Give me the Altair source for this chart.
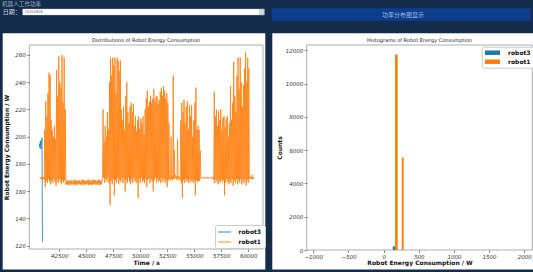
import altair as alt
import pandas as pd

# ---------------- data ----------------
robot3_time = [40650, 40700, 40750, 40800, 40850, 40900, 40940]
robot3_power = [195, 192, 197, 191, 196, 199, 123]

# robot1: dense trace, read as (peak, trough) per 100 s window, per stretch
r1_start_a, r1_a = 40700, [(170, 169), (170, 169), (171, 169), (170, 169)]
r1_start_b, r1_b = 41100, [(205, 168), (226, 163), (215, 168), (232, 166), (247, 169),
                           (245, 167), (212, 165), (205, 168), (200, 166), (208, 169),
                           (198, 167), (249, 164), (230, 168), (259, 166), (240, 169),
                           (236, 167), (260, 165), (225, 168), (258, 166), (220, 168)]
r1_start_c, r1_c = 43100, [(167, 165), (168, 164.5), (168, 165), (167.5, 165), (168, 164.5),
                           (168, 165), (167, 165.5), (168, 164.5), (168.5, 165), (168, 165),
                           (167.5, 164.5), (168, 165), (168, 165), (167, 165.5), (168, 164.5),
                           (168.5, 165), (168, 165), (168, 164.5), (167.5, 165), (168, 165),
                           (168, 165.5), (168.5, 164.5), (168, 165), (167, 165), (168, 164.5),
                           (168.5, 165), (168, 165), (168, 165.5), (167.5, 164.5), (168, 165),
                           (168.5, 165), (168, 164.5), (168, 165), (167.5, 165)]
r1_start_d, r1_d = 46500, [(220, 168), (196, 170), (208, 166), (200, 169), (218, 167),
                           (205, 170), (240, 166), (258, 150), (245, 168), (258, 165),
                           (252, 169), (258, 157), (232, 168), (258, 166), (256, 170),
                           (248, 165), (256, 168), (220, 167), (212, 170), (222, 166),
                           (205, 169), (230, 160), (240, 168), (218, 166), (210, 170),
                           (222, 167), (225, 165), (218, 169), (224, 166), (208, 170),
                           (215, 167), (204, 168), (212, 166), (215, 155), (206, 169),
                           (213, 166), (210, 170), (215, 167), (202, 168), (220, 166),
                           (228, 169), (234, 163), (222, 168), (226, 170), (230, 166),
                           (225, 169), (228, 167), (235, 160), (226, 168), (229, 170),
                           (230, 166), (224, 169), (227, 167), (233, 168), (236, 166),
                           (230, 170), (237, 167), (234, 169), (228, 166), (232, 168),
                           (225, 163), (210, 168)]
r1_start_e, r1_e = 52700, [(170, 169), (200, 168), (171, 169), (245, 168), (190, 169),
                           (172, 169), (171, 170), (198, 168), (171, 169), (170, 169),
                           (212, 168)]
r1_start_f, r1_f = 53800, [(225, 166), (218, 155), (227, 168), (210, 166), (222, 169),
                           (226, 167), (205, 168), (223, 166), (215, 169), (223, 167),
                           (200, 168), (212, 166), (225, 168), (236, 157), (205, 168),
                           (208, 167), (205, 167), (190, 168)]
r1_start_g, r1_g = 55600, [(170, 169.5), (170, 169.5), (170.5, 169.5), (170, 169.5),
                           (170, 169.5), (170, 169.5), (170.5, 169.5), (170, 169.5),
                           (170, 169.5), (170, 169.5), (170.5, 169.5), (170, 169.5)]
r1_start_h, r1_h = 56800, [(233, 168), (215, 166), (220, 169), (208, 167), (219, 165),
                           (212, 168), (220, 166), (205, 169), (214, 167), (215, 168),
                           (207, 157), (213, 166), (215, 169), (200, 167), (210, 165),
                           (237, 168), (212, 166), (225, 169), (255, 164), (230, 168),
                           (218, 166), (245, 169), (258, 165), (235, 168), (258, 166),
                           (240, 169), (222, 165), (238, 168), (250, 166), (262, 169),
                           (240, 164), (258, 168), (250, 166)]
r1_start_i, r1_i = 60100, [(171, 169), (170, 169), (172, 169), (170, 169), (170, 169)]
WINDOW = 100

# histogram bins
hist_series = ["robot3", "robot1", "robot1"]
hist_left = [129, 162, 257]
hist_right = [162, 200, 285]
hist_count = [220, 11750, 5560]

# tick labels
time_ticks = [42500, 45000, 47500, 50000, 52500, 55000, 57500, 60000]
power_ticks = [120, 140, 160, 180, 200, 220, 240, 260]
count_ticks = [0, 2000, 4000, 6000, 8000, 10000, 12000]
watt_ticks = [-1000, -500, 0, 500, 1000, 1500, 2000]

series_names = ["robot3", "robot1"]
series_colors = ["#1f77b4", "#ff7f0e"]

# ---------------- tables ----------------
rows = []
for start, pairs in [(r1_start_a, r1_a), (r1_start_b, r1_b), (r1_start_c, r1_c),
                     (r1_start_d, r1_d), (r1_start_e, r1_e), (r1_start_f, r1_f),
                     (r1_start_g, r1_g), (r1_start_h, r1_h), (r1_start_i, r1_i)]:
    for k, (hi, lo) in enumerate(pairs):
        t = start + WINDOW * k
        rows.append({"t": t, "w": lo, "series": "robot1"})
        rows.append({"t": t + WINDOW / 2, "w": hi, "series": "robot1"})
df1 = pd.DataFrame(rows)
df3 = pd.DataFrame({"t": robot3_time, "w": robot3_power, "series": "robot3"})
dfh = pd.DataFrame({"series": hist_series, "x0": hist_left, "x1": hist_right, "n": hist_count})
one = pd.DataFrame({"k": [1]})

# ---------------- layout (pixels) ----------------
W, H = 533, 272
L_X0, L_X1, L_Y0, L_Y1 = 29.3, 263.0, 249.0, 45.0
R_X0, R_X1, R_Y0, R_Y1 = 306.7, 532.3, 250.0, 45.0
BG = "#142c4c"
FONT = "DejaVu Sans"
CJK = "Noto Sans CJK SC"

color_scale = alt.Scale(domain=series_names, range=series_colors)


def axis(values, orient, offset, title, tx, ty, fmt="d"):
    return alt.Axis(values=values, format=fmt, orient=orient, offset=offset, grid=False,
                    domain=False, tickSize=2.5, tickWidth=0.7, tickColor="#555",
                    labelFont=FONT, labelFontStyle="italic", labelFontSize=5.5,
                    labelColor="#333", labelPadding=1.5, labelOverlap=False,
                    labelFlush=False, title=title, titleFont=FONT, titleFontSize=6,
                    titleFontWeight="bold", titleColor="#111", titleX=tx, titleY=ty,
                    titleAlign="center", titleBaseline="middle", zindex=1)


LXS = alt.Scale(domain=[39722, 61361], range=[L_X0, L_X1], nice=False, zero=False)
LYS = alt.Scale(domain=[117.6, 267.3], range=[L_Y0, L_Y1], nice=False, zero=False)
ax_lx = axis(time_ticks, "bottom", L_Y0 - H, "Time / s", (L_X0 + L_X1) / 2, 13.7)
ax_ly = axis(power_ticks, "left", -L_X0, "Robot Energy Consumption / W", 6.7 - L_X0,
             (L_Y0 + L_Y1) / 2)

leg_left = alt.Legend(orient="none", legendX=215, legendY=225, title=None,
                      fillColor="white", strokeColor="#cccccc", cornerRadius=2,
                      padding=3, rowPadding=3, labelFont=FONT, labelFontSize=6,
                      labelFontWeight="bold", labelColor="#111",
                      symbolType="M-2,0H2", symbolSize=42, symbolStrokeWidth=0.9,
                      symbolOffset=2.5, labelOffset=10)

leg_right = alt.Legend(orient="none", legendX=481.7, legendY=46.7, title=None,
                       fillColor="white", strokeColor="#cccccc", cornerRadius=2,
                       padding=3, rowPadding=3, labelFont=FONT, labelFontSize=6,
                       labelFontWeight="bold", labelColor="#111",
                       symbolType="M-2.5,-0.75H2.5V0.75H-2.5Z", symbolSize=36,
                       symbolStrokeWidth=0, symbolOffset=4.8, labelOffset=12.5)


def line_layer(df, sw):
    return alt.Chart(df).mark_line(strokeWidth=sw).encode(
        x=alt.X("t:Q", scale=LXS, axis=ax_lx),
        y=alt.Y("w:Q", scale=LYS, axis=ax_ly),
        color=alt.Color("series:N", scale=color_scale, legend=leg_left),
    )


left = alt.layer(line_layer(df3, 0.8), line_layer(df1, 0.8))

RXS = alt.Scale(domain=[-1094, 2114], range=[R_X0, R_X1], nice=False, zero=False)
RYS = alt.Scale(domain=[0, 12330], range=[R_Y0, R_Y1], nice=False, zero=False)
ax_rx = axis(watt_ticks, "bottom", R_Y0 - H, "Robot Energy Consumption / W",
             (R_X0 + R_X1) / 2, 12.8)
ax_ry = axis(count_ticks, "left", -R_X0, "Counts", 279 - R_X0, (R_Y0 + R_Y1) / 2)

right = alt.Chart(dfh).mark_rect().encode(
    x=alt.X("x0:Q", scale=RXS, axis=ax_rx),
    x2="x1:Q",
    y=alt.Y("n:Q", scale=RYS, axis=ax_ry),
    y2=alt.datum(0),
    color=alt.Color("series:N", scale=color_scale, legend=leg_right),
)


def box(x, x2, y, y2, **kw):
    return alt.Chart(one).mark_rect(**kw).encode(
        x=alt.value(x), x2=alt.value(x2), y=alt.value(y), y2=alt.value(y2))


def label(txt, x, y, size, color, align="left", font=CJK, weight="normal"):
    return alt.Chart(one).mark_text(text=txt, align=align, baseline="middle",
                                    fontSize=size, color=color, font=font,
                                    fontWeight=weight).encode(
        x=alt.value(x), y=alt.value(y))


panels = [
    box(2.7, 265.3, 33.3, 269.5, fill="white"),
    box(272.3, 540, 33.3, 269.5, fill="white"),
]
header = [
    label("机器人工作功率", 2, 3.6, 5.6, "#9aa8bd"),
    label("日期：", 2.7, 11.8, 6, "#d0d7e2"),
    box(22.7, 264.3, 9.0, 15.0, fill="white", stroke="#b8c0ca", strokeWidth=0.4),
    label("20200808", 24.5, 12.1, 3.6, "#666", font=FONT),
    box(259.6, 264.0, 9.4, 14.6, fill="#d9dde2", stroke="#9aa0a8", strokeWidth=0.4),
    box(271.7, 530.5, 8.3, 20.7, fill="#0d3d8d"),
    label("功率分布图显示", 403, 14.8, 6, "#9fb8e6", align="center"),
]
frames = [
    box(L_X0, L_X1, L_Y1, L_Y0, fillOpacity=0, stroke="#9a9a9a", strokeWidth=0.8),
    box(R_X0, R_X1, R_Y1, R_Y0, fillOpacity=0, stroke="#9a9a9a", strokeWidth=0.8),
]
titles = [
    label("Distributions of Robot Energy Consumption", (L_X0 + L_X1) / 2, 40.3, 5,
          "#222", align="center", font=FONT),
    label("Histograms of Robot Energy Consumption", (R_X0 + R_X1) / 2, 40.3, 5,
          "#222", align="center", font=FONT),
]

chart = alt.layer(*panels, *header, left, right, *frames, *titles).resolve_scale(
    x="independent", y="independent", color="independent"
).properties(
    width=W, height=H, padding=0, background=BG,
    autosize=alt.AutoSizeParams(type="none"),
).configure_view(strokeWidth=0)

chart.save("out.html", embed_options={"renderer": "svg", "actions": False})
